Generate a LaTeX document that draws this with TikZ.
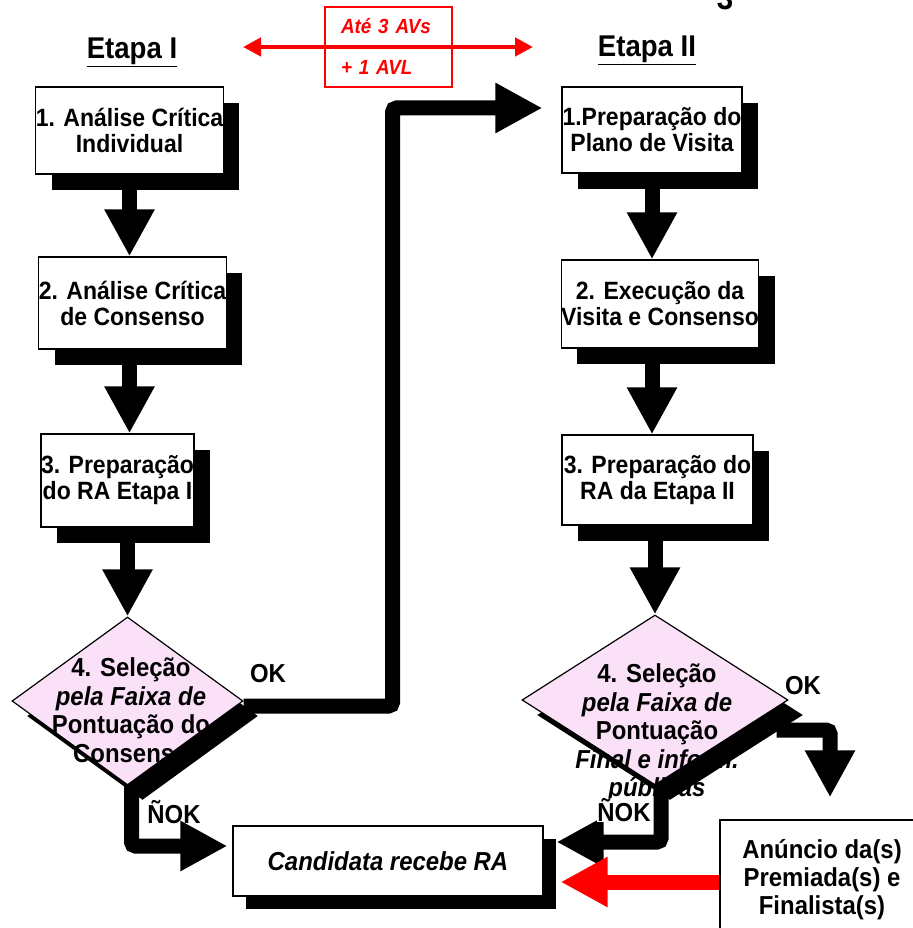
\documentclass[tikz,border=0pt]{standalone}
\usepackage{fontspec}
\setmainfont[FakeStretch=0.92]{Liberation Sans}
\usetikzlibrary{arrows.meta,calc,positioning,shapes.geometric,shadows}
\definecolor{decfill}{HTML}{FAE1F8}
\definecolor{linkred}{HTML}{FF0000}

\begin{document}
\begin{tikzpicture}[
  x=1pt, y=-1pt,
  font=\bfseries,
  stepbox/.style={draw=black, line width=1.2pt, fill=white, inner sep=0pt,
                  align=center, font=\bfseries\fontsize{25}{26}\selectfont,
                  drop shadow={shadow xshift=#1, shadow yshift=-#1,
                               fill=black, opacity=1}},
  stepbox/.default=16pt,
  plainbox/.style={draw=black, line width=1.2pt, fill=white, inner sep=0pt,
                   align=center, font=\bfseries\fontsize{26}{28}\selectfont},
  decision/.style={diamond, draw=black, line width=1.2pt, fill=decfill, inner sep=0pt,
                   drop shadow={shadow xshift=15pt, shadow yshift=-15pt,
                                fill=black, opacity=1}},
  dectext/.style={font=\bfseries\fontsize{26}{28.5}\selectfont, align=center, inner sep=0pt},
  flow/.style={draw=black, line width=15pt, rounded corners=4pt,
               -{Triangle[length=47pt, width=47pt]}},
  redflow/.style={draw=linkred, line width=15pt, -{Triangle[length=47pt, width=47pt]}},
  redlink/.style={draw=linkred, line width=4.5pt, -{Triangle[length=18pt, width=18pt]}},
  redbox/.style={draw=linkred, line width=2pt, minimum width=127pt, minimum height=39pt,
                 text width=95pt, align=left, inner xsep=16pt, inner ysep=0pt,
                 text=linkred, font=\bfseries\itshape\fontsize{20.5}{22}\selectfont},
  heading/.style={font=\bfseries\fontsize{30}{32}\selectfont},
  lbl/.style={font=\bfseries\fontsize{26}{28}\selectfont, inner sep=0pt},
]
\useasboundingbox (0,0) rectangle (912,928);

% ---------- headings ----------
\node[heading] (et1) at (132,52) {\underline{Etapa I}};
\node[heading] (et2) at (647,50) {\underline{Etapa II}};
\node[font=\bfseries\fontsize{32}{32}\selectfont, anchor=base] (pgno) at (725,10) {3};

% ---------- number of examiners ----------
\node[redbox] (avs) at (388.5,26.5) {Até 3 AVs};
\node[redbox, below=0pt of avs] (avl) {+ 1 AVL};
\draw[redlink] (avs.south west) -- ++(-81,0);
\draw[redlink] (avs.south east) -- ++(80,0);

% ---------- etapa I ----------
\node[stepbox, minimum width=185pt, minimum height=87pt] (a1) at (129.5,130.5)
  {1. Análise Crítica\\Individual};
\node[stepbox, minimum width=181pt, minimum height=92pt] (a2) at (132.5,303)
  {2. Análise Crítica\\de Consenso};
\node[stepbox, minimum width=151pt, minimum height=93pt] (a3) at (117.5,480.5)
  {3. Preparação\\do RA Etapa I};
\node[decision, minimum width=231pt, minimum height=168pt] (d1) at (127.5,701) {};
\node[dectext] (d1txt) at (131,710)
  {4. Seleção\\\textit{pela Faixa de}\\Pontuação do\\Consenso};

% ---------- etapa II ----------
\node[stepbox, minimum width=180pt, minimum height=86pt] (b1) at (652,130)
  {1.Preparação do\\Plano de Visita};
\node[stepbox, minimum width=196pt, minimum height=88pt] (b2) at (660,304)
  {2. Execução da\\Visita e Consenso};
\node[stepbox, minimum width=191pt, minimum height=90pt] (b3) at (657.5,480)
  {3. Preparação do\\RA da Etapa II};
\node[decision, minimum width=266pt, minimum height=170pt] (d2) at (655,700) {};
\node[dectext] (d2txt) at (657,733)
  {4. Seleção\\\textit{pela Faixa de}\\Pontuação\\\textit{Final e inform.}\\\textit{públicas}};

% ---------- results ----------
\node[stepbox=13pt, minimum width=310pt, minimum height=70pt,
      font=\bfseries\itshape\fontsize{26}{28}\selectfont] (cand) at (388,861)
  {Candidata recebe RA};
\node[plainbox, minimum width=204pt, minimum height=120pt] (anun) at (822,880)
  {Anúncio da(s)\\Premiada(s) e\\Finalista(s)};

% ---------- flow ----------
\draw[flow] (a1.south) -- (a1.south |- a2.north);
\draw[flow] (a1.south |- a2.south) -- (a1.south |- a3.north);
\draw[flow] (d1.north |- a3.south) -- (d1.north);

\draw[flow] (b1.south) -- (b1.south |- b2.north);
\draw[flow] (b1.south |- b2.south) -- (b1.south |- b3.north);
\draw[flow] (d2.north |- b3.south) -- (d2.north);

\coordinate (okin) at ($(b1.west)+(-19,-22)$);
\draw[flow] ($(d1.east)+(0,5)$) -- ++(149,0) |- (okin);

\coordinate (nokl) at ($(cand.west)+(-5,-15)$);
\draw[flow] ($(d1.south)+(4,0)$) |- (nokl);

\coordinate (nokr) at ($(cand.east)+(13,-19)$);
\draw[flow] ($(d2.south)+(6,0)$) |- (nokr);

\coordinate (okr) at ($(anun.north)+(8,-22)$);
\draw[flow] ($(d2.east)+(-12,30)$) -| (okr);

\coordinate (annin) at ($(cand.east)+(17,21)$);
\draw[redflow] (anun.west |- annin) -- (annin);

% ---------- labels ----------
\node[lbl] (ok1) at (268,674) {OK};
\node[lbl] (ok2) at (803,686) {OK};
\node[lbl] (nok1) at (174,812) {ÑOK};
\node[lbl, fill=white] (nok2) at (624,810) {ÑOK};

\end{tikzpicture}
\end{document}
